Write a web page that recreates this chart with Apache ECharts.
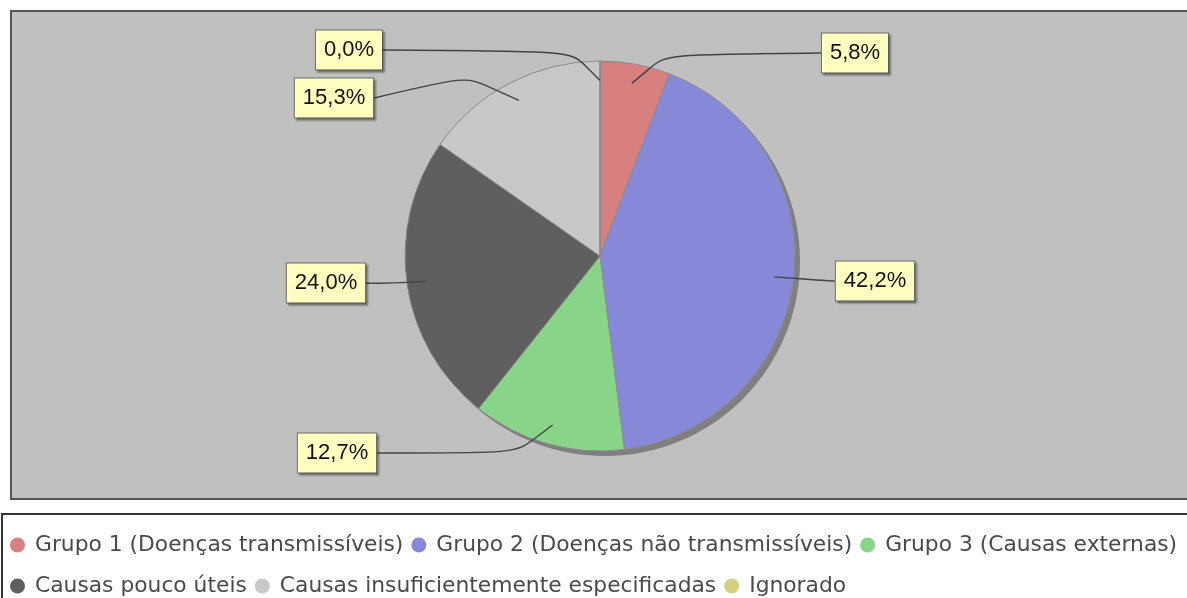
<!DOCTYPE html>
<html>
<head>
<meta charset="utf-8">
<script src="https://cdn.jsdelivr.net/npm/echarts@6/dist/echarts.min.js"></script>
<style>
  html, body { margin: 0; padding: 0; background: #fff; }
  #chart { width: 1187px; height: 598px; }
</style>
</head>
<body>
<div id="chart"></div>
<script>
const categories = [
  'Grupo 1 (Doenças transmissíveis)',
  'Grupo 2 (Doenças não transmissíveis)',
  'Grupo 3 (Causas externas)',
  'Causas pouco úteis',
  'Causas insuficientemente especificadas',
  'Ignorado'
];
const shares = [5.8, 42.2, 12.7, 24.0, 15.3, 0.0];
const sliceColors = ['#d88080', '#8888d8', '#88d488', '#5f5f5f', '#c8c8c8', '#d4d080'];

// layout
const cx = 600, cy = 256, R = 195;
const labelSpots = [[855, 53], [875, 281], [337, 453], [326, 283], [334, 98], [349, 50]];
const linkReach = [1.05, 1.05, 1.05, 1.0, 1.09, 1.05];

const total = shares.reduce((a, b) => a + b, 0);
const midAngles = [];
let acc = 0;
shares.forEach(v => {
  midAngles.push((acc + v / 2) / total * Math.PI * 2);
  acc += v;
});

function polar(a, r) {
  return [cx + r * Math.sin(a), cy - r * Math.cos(a)];
}

function fmt(v) {
  return v.toFixed(1).replace('.', ',') + '%';
}

const pieData = categories.map((c, i) => ({ name: c, value: shares[i] }));

const chart = echarts.init(document.getElementById('chart'));

const legendText = { fontFamily: 'DejaVu Sans', fontSize: 21.8, color: '#4a4a4a', padding: [0, 0, 0, 5] };
const legendBase = {
  left: 10, width: 1200, padding: 0,
  icon: 'circle', itemWidth: 15, itemHeight: 15, itemGap: 8,
  itemStyle: { borderWidth: 0 },
  textStyle: legendText
};

chart.setOption({
  animation: false,
  backgroundColor: '#fff',
  color: sliceColors,
  graphic: [
    {
      type: 'rect', z: -10, silent: true,
      shape: { x: 11, y: 11, width: 1200, height: 488 },
      style: { fill: '#c0c0c0', stroke: '#555', lineWidth: 2 }
    },
    {
      type: 'rect', z: -10, silent: true,
      shape: { x: 2, y: 514, width: 1200, height: 100 },
      style: { fill: '#fff', stroke: '#333', lineWidth: 2 }
    }
  ],
  legend: [
    Object.assign({ data: categories.slice(0, 3), top: 534 }, legendBase),
    Object.assign({ data: categories.slice(3), top: 575 }, legendBase)
  ],
  series: [
    {
      // drop shadow
      type: 'pie', silent: true, z: 1,
      center: [cx + 5, cy + 5], radius: R,
      label: { show: false }, labelLine: { show: false },
      itemStyle: { color: '#7f7f7f' },
      data: [{ value: 1, name: '' }]
    },
    {
      type: 'pie', z: 2, silent: true,
      center: [cx, cy], radius: R,
      startAngle: 90, clockwise: true,
      itemStyle: { borderColor: '#8a8a8a', borderWidth: 1 },
      label: { show: false }, labelLine: { show: false },
      data: pieData
    },
    {
      // labels and link lines on top of the slices
      type: 'pie', z: 3, silent: true,
      center: [cx, cy], radius: R,
      startAngle: 90, clockwise: true,
      avoidLabelOverlap: false,
      itemStyle: { color: 'rgba(0,0,0,0)', borderWidth: 0 },
      data: pieData,
      label: {
        show: true,
        position: 'outside',
        formatter: p => fmt(p.value),
        fontFamily: 'Liberation Sans',
        fontSize: 22,
        lineHeight: 25,
        color: '#111',
        backgroundColor: '#ffffc0',
        borderColor: '#6a6a6a',
        borderWidth: 1,
        padding: [7, 8],
        shadowColor: 'rgba(0,0,0,0.3)',
        shadowBlur: 2,
        shadowOffsetX: 2,
        shadowOffsetY: 2
      },
      labelLine: {
        show: true,
        smooth: 1,
        lineStyle: { color: '#444', width: 1.4 }
      },
      labelLayout: function (params) {
        const i = params.dataIndex;
        const spot = labelSpots[i];
        const w = params.labelRect.width;
        const a = midAngles[i];
        const right = spot[0] > cx;
        const edge = [right ? spot[0] - w / 2 : spot[0] + w / 2, spot[1]];
        return {
          x: spot[0], y: spot[1],
          align: 'center', verticalAlign: 'middle',
          labelLinePoints: [polar(a, R * 0.9), polar(a, R * linkReach[i]), edge]
        };
      }
    }
  ]
});
</script>
</body>
</html>
